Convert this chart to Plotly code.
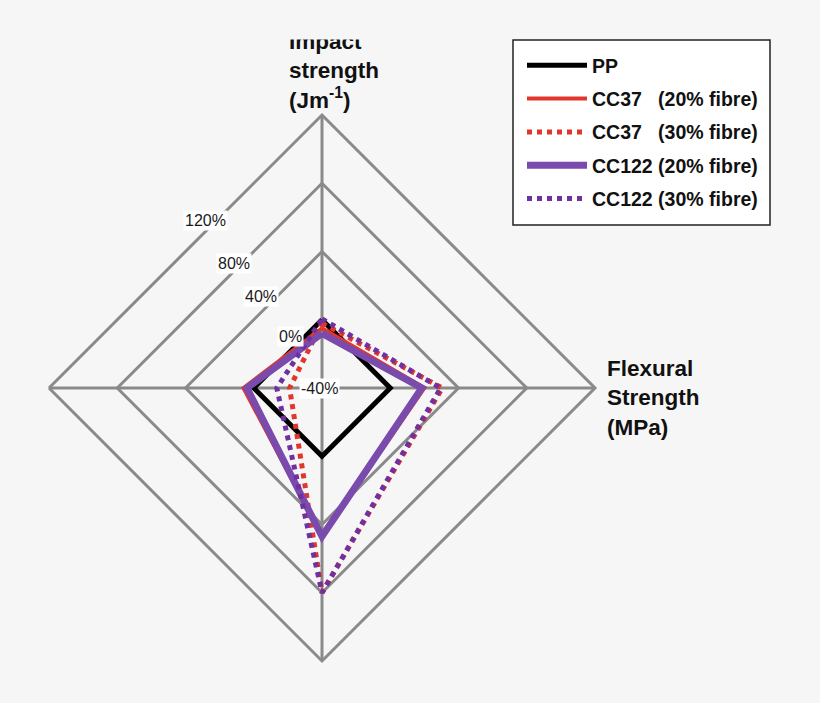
import plotly.graph_objects as go

# ── data (relative change vs PP, %) ──
axes = ["Impact strength", "Flexural Strength", "Flexural Modulus", "Tensile Strength"]
pp = [0, 0, 0, 0]
cc37_20 = [-5, 20, 47, 6]
cc37_30 = [-2, 30.5, 80, -21]
cc122_20 = [-8, 18.5, 47, 4]
cc122_30 = [0.5, 29.5, 80, -13.5]
r_ticks = [-40, 0, 40, 80, 120]
r_tick_labels = ["-40%", "0%", "40%", "80%", "120%"]

BG = "#f6f6f6"
GRID = "#8a8a8a"
W, H = 820, 703

# polar centre / radius in pixels
CX, CY, RAD = 322, 388, 273


def px(x, y):
    return x / W, 1 - y / H


def closed(v):
    return list(v) + [v[0]]


series = [
    ("PP", pp, "#000000", 5, "solid"),
    ("CC37&nbsp;&nbsp;&nbsp;(20% fibre)", cc37_20, "#e0362c", 4, "solid"),
    ("CC37&nbsp;&nbsp;&nbsp;(30% fibre)", cc37_30, "#e0362c", 5, "dot"),
    ("CC122 (20% fibre)", cc122_20, "#7a4aac", 7, "solid"),
    ("CC122 (30% fibre)", cc122_30, "#7030a0", 5, "dot"),
]

fig = go.Figure()
for i, (name, vals, color, lw, dash) in enumerate(series):
    fig.add_trace(go.Scatterpolar(
        r=closed(vals),
        theta=closed(axes),
        mode="lines",
        name=name,
        legendgroup=f"g{i}",
        line=dict(color=color, width=lw, dash=dash),
        hovertemplate="%{theta}: %{r}%<extra></extra>",
    ))

x0, y1 = px(CX - RAD, CY - RAD)
x1, y0 = px(CX + RAD, CY + RAD)

fig.update_layout(
    width=W,
    height=H,
    margin=dict(l=0, r=0, t=0, b=0),
    paper_bgcolor=BG,
    plot_bgcolor=BG,
    font=dict(family="Liberation Sans, Arial, sans-serif", color="#111"),
    polar=dict(
        domain=dict(x=[x0, x1], y=[y0, y1]),
        bgcolor=BG,
        gridshape="linear",
        angularaxis=dict(
            rotation=90,
            direction="clockwise",
            showticklabels=False,
            ticks="",
            showline=True,
            linecolor=GRID,
            linewidth=3,
            gridcolor=GRID,
            gridwidth=3,
        ),
        radialaxis=dict(
            range=[-40, 120],
            tickvals=r_ticks,
            showticklabels=False,
            ticks="",
            showline=False,
            gridcolor=GRID,
            gridwidth=3,
        ),
    ),
    showlegend=True,
    legend=dict(
        x=522 / W, y=1 - 46 / H,
        xanchor="left", yanchor="top",
        bgcolor="rgba(0,0,0,0)",
        borderwidth=0,
        font=dict(size=19.5, weight="bold", color="#111"),
        itemwidth=60,
        tracegroupgap=5,
    ),
)

# legend frame
lx0, ly1 = px(513, 40)
lx1, ly0 = px(770, 225)
fig.add_shape(
    type="rect", xref="paper", yref="paper",
    x0=lx0, x1=lx1, y0=ly0, y1=ly1,
    fillcolor="white", line=dict(color="#222", width=1.5),
    layer="below",
)

# radial tick labels along the upper-left edges
label_pos = [(319, 388), (290, 336), (261, 297), (234, 263), (205, 221)]
for txt, (lx, ly) in zip(r_tick_labels, label_pos):
    ax, ay = px(lx, ly)
    fig.add_annotation(
        x=ax, y=ay, xref="paper", yref="paper",
        xanchor="center", yanchor="middle",
        text=txt, showarrow=False,
        bgcolor="white", borderpad=1,
        font=dict(size=16, color="#1a1a1a"),
    )

# axis titles
ax, ay = px(287, 71)
fig.add_annotation(
    x=ax, y=ay, xref="paper", yref="paper",
    text="Impact<br>strength<br>(Jm<sup>-1</sup>)",
    showarrow=False, align="left", xanchor="left", yanchor="middle",
    font=dict(size=22.5, weight="bold", color="#111"),
)
ax, ay = px(605, 398)
fig.add_annotation(
    x=ax, y=ay, xref="paper", yref="paper",
    text="Flexural<br>Strength<br>(MPa)",
    showarrow=False, align="left", xanchor="left", yanchor="middle",
    font=dict(size=22.5, weight="bold", color="#111"),
)

# the source image is cropped through the top title line
ax, ay = px(270, 0)
fig.add_annotation(
    x=ax, y=ay, xref="paper", yref="paper",
    text=" ", showarrow=False, xanchor="left", yanchor="top",
    width=140, height=38, bgcolor=BG, borderpad=0,
)

fig.write_html(
    "out.html",
    config={"displayModeBar": False},
    post_script=f"document.body.style.margin='0';document.body.style.background='{BG}';",
)
